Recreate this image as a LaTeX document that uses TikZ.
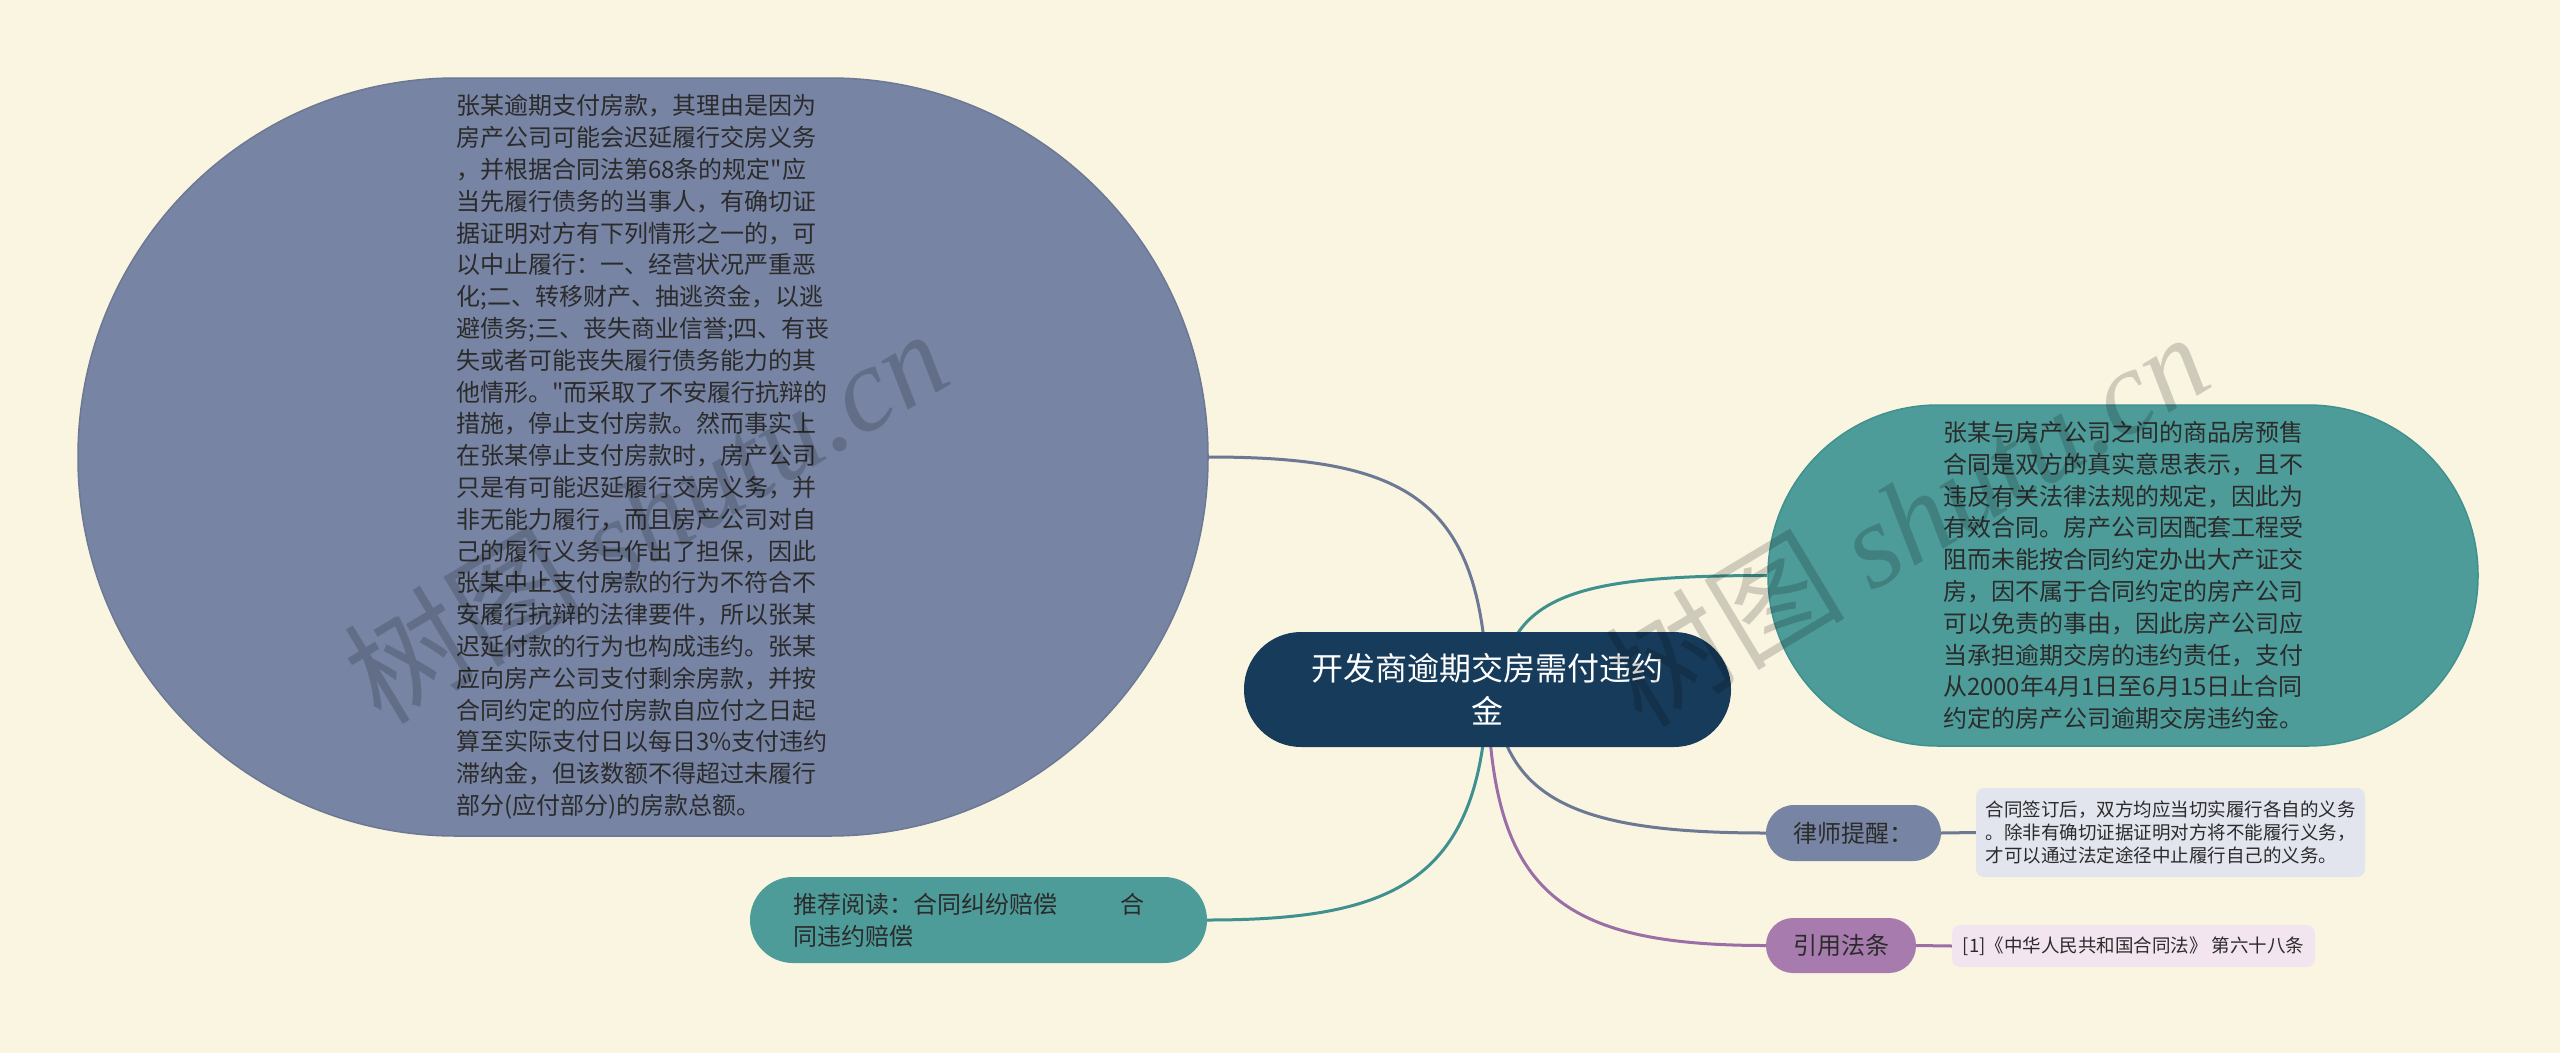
\documentclass[tikz,border=0pt]{standalone}
\usepackage{fontspec}
\setmainfont{Noto Sans CJK SC}
\newfontfamily\wmlatin{Liberation Serif}
\usetikzlibrary{calc}
\definecolor{bgcol}{HTML}{FAF5E1}
\definecolor{slate}{HTML}{7784A3}
\definecolor{slateline}{HTML}{6C7894}
\definecolor{tealfill}{HTML}{4E9C9A}
\definecolor{tealline}{HTML}{3F918F}
\definecolor{navy}{HTML}{173C5B}
\definecolor{purp}{HTML}{A87BAF}
\definecolor{purpline}{HTML}{9B6FA6}
\definecolor{detA}{HTML}{E2E5EE}
\definecolor{detB}{HTML}{F2E5EF}
\definecolor{txt}{HTML}{2B2B2B}
\pgfdeclarelayer{bglayer}
\pgfdeclarelayer{edgelayer}
\pgfdeclarelayer{wmlayer}
\pgfsetlayers{bglayer,edgelayer,wmlayer,main}
\tikzset{
  bignode/.style={inner sep=0pt, align=left, text=txt, font={\fontsize{24}{31.8}\selectfont}},
  pill/.style={inner sep=0pt, text=txt, font={\fontsize{24}{32}\selectfont}},
  detail/.style={inner sep=0pt, rounded corners=8pt, text=txt, align=left, font={\fontsize{18.5}{23}\selectfont}},
  link/.style={line width=3pt},
  wm/.style={rotate=31, opacity=0.17, text=black, inner sep=0pt}
}
\newcommand{\sq}{\textquotedbl{}}
\begin{document}
\begin{tikzpicture}[x=1pt,y=-1pt]
\begin{pgfonlayer}{bglayer}
\fill[bgcol] (0,0) rectangle (2560,1053);
\end{pgfonlayer}
\useasboundingbox (0,0) rectangle (2560,1053);

% central topic
\node[inner sep=0pt, minimum width=487pt, minimum height=115pt, rounded corners=57pt,
      fill=navy, text=white, align=center, font={\fontsize{32}{43}\selectfont}]
      (c) at (1487.5,689.5) {开发商逾期交房需付违约\\金};

% big left bubble
\node[bignode, minimum width=1130pt, minimum height=758pt, rounded corners=378pt,
      fill=slate, draw=slateline, line width=1.5pt] (L) at (643,457) {};
\node[bignode] (Ltext) at (L.center) {%
张某逾期支付房款，其理由是因为\\
房产公司可能会迟延履行交房义务\\
，并根据合同法第68条的规定\sq 应\\
当先履行债务的当事人，有确切证\\
据证明对方有下列情形之一的，可\\
以中止履行：一、经营状况严重恶\\
化;二、转移财产、抽逃资金，以逃\\
避债务;三、丧失商业信誉;四、有丧\\
失或者可能丧失履行债务能力的其\\
他情形。\sq 而采取了不安履行抗辩的\\
措施，停止支付房款。然而事实上\\
在张某停止支付房款时，房产公司\\
只是有可能迟延履行交房义务，并\\
非无能力履行，而且房产公司对自\\
己的履行义务已作出了担保，因此\\
张某中止支付房款的行为不符合不\\
安履行抗辩的法律要件，所以张某\\
迟延付款的行为也构成违约。张某\\
应向房产公司支付剩余房款，并按\\
合同约定的应付房款自应付之日起\\
算至实际支付日以每日3\%支付违约\\
滞纳金，但该数额不得超过未履行\\
部分(应付部分)的房款总额。};

% right teal bubble
\node[bignode, minimum width=710pt, minimum height=341pt, rounded corners=170pt,
      fill=tealfill, draw=tealline, line width=1.5pt] (R) at (2123,575.5) {};
\node[bignode] (Rtext) at (R.center) {%
张某与房产公司之间的商品房预售\\
合同是双方的真实意思表示，且不\\
违反有关法律法规的规定，因此为\\
有效合同。房产公司因配套工程受\\
阻而未能按合同约定办出大产证交\\
房，因不属于合同约定的房产公司\\
可以免责的事由，因此房产公司应\\
当承担逾期交房的违约责任，支付\\
从2000年4月1日至6月15日止合同\\
约定的房产公司逾期交房违约金。};

% lawyer reminder
\node[pill, minimum width=175pt, minimum height=56pt, rounded corners=28pt, fill=slate]
      (N1) at (1853.5,833) {律师提醒：};
\node[detail, minimum width=389pt, minimum height=89pt, fill=detA]
      (D1) at (2170.5,832.5) {合同签订后，双方均应当切实履行各自的义务\\
。除非有确切证据证明对方将不能履行义务，\\
才可以通过法定途径中止履行自己的义务。};

% cited law
\node[pill, minimum width=150pt, minimum height=55pt, rounded corners=27pt, fill=purp]
      (N2) at (1841,945.5) {引用法条};
\node[detail, minimum width=363pt, minimum height=42pt, fill=detB]
      (D2) at (2133.5,946) {[1]《中华人民共和国合同法》 第六十八条};

% recommended reading
\node[pill, minimum width=457pt, minimum height=86pt, rounded corners=43pt, fill=tealfill,
      text width=371pt, align=left]
      (T) at (978.5,920) {推荐阅读：合同纠纷赔偿\hspace{63pt}合\\同违约赔偿};

% connectors
\begin{pgfonlayer}{edgelayer}
\draw[link, slateline] (L.east) .. controls +(200,0) and ($(c.center)+(-6,-190)$) .. (c.center);
\draw[link, tealline] ($(c.center)+(12,0)$) .. controls ($(c.center)+(22,-95)$) and ($(R.west)+(-190,0)$) .. (R.west);
\draw[link, slateline] ($(c.center)+(6,0)$) .. controls ($(c.center)+(16,110)$) and ($(N1.west)+(-190,0)$) .. (N1.west);
\draw[link, purpline] (c.center) .. controls ($(c.center)+(4,200)$) and ($(N2.west)+(-210,0)$) .. (N2.west);
\draw[link, tealline] (c.center) .. controls ($(c.center)+(-6,190)$) and ($(T.east)+(190,0)$) .. (T.east);
\draw[link, slateline] (N1.east) -- (D1.west);
\draw[link, purpline] (N2.east) -- (D2.west);
\end{pgfonlayer}

% watermarks (over the bubbles, under the texts)
\begin{pgfonlayer}{wmlayer}
\end{pgfonlayer}
\node[wm] (wm1) at (645,515) {\fontsize{120}{120}\selectfont 树图 {\wmlatin\itshape shutu.cn}};
\node[wm] (wm2) at (1906,518) {\fontsize{120}{120}\selectfont 树图 {\wmlatin\itshape shutu.cn}};
\end{tikzpicture}
\end{document}
